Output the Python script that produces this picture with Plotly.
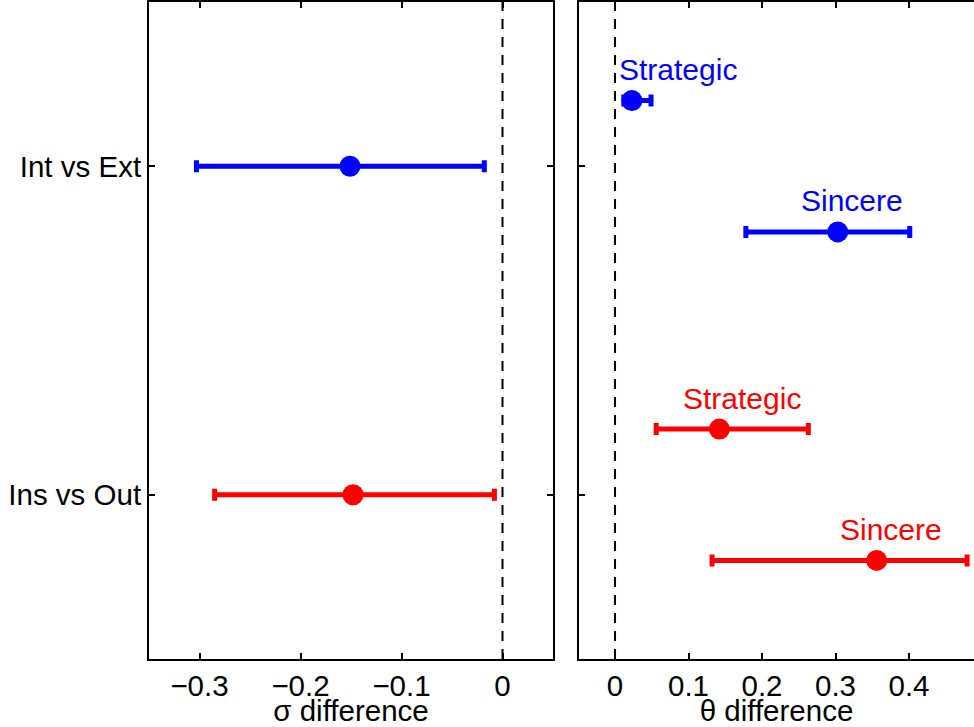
import plotly.graph_objects as go

# ---- data ----
categories = ["Int vs Ext", "Ins vs Out"]
series_colors = ["#0000FF", "#FF0000"]

sigma_mean = [-0.151, -0.148]
sigma_low = [-0.303, -0.285]
sigma_high = [-0.018, -0.008]

groups = ["Strategic", "Sincere"]
theta_mean = {"Int vs Ext": [0.023, 0.303], "Ins vs Out": [0.142, 0.356]}
theta_low = {"Int vs Ext": [0.012, 0.178], "Ins vs Out": [0.056, 0.132]}
theta_high = {"Int vs Ext": [0.049, 0.401], "Ins vs Out": [0.263, 0.479]}
label_x = {"Int vs Ext": [0.086, 0.322], "Ins vs Out": [0.173, 0.376]}

cat_pos = [1, 2]
group_offset = [-0.2, 0.2]

FONT = "Liberation Sans, Arial, sans-serif"
FS = 29.5
FS_LABEL = 30

fig = go.Figure()

# left panel: sigma differences
for i, cat in enumerate(categories):
    c = series_colors[i]
    fig.add_trace(go.Scatter(
        x=[sigma_mean[i]], y=[cat_pos[i]], mode="markers",
        marker=dict(color=c, size=21, line=dict(width=0)),
        error_x=dict(type="data", symmetric=False,
                     array=[sigma_high[i] - sigma_mean[i]],
                     arrayminus=[sigma_mean[i] - sigma_low[i]],
                     color=c, thickness=5, width=6),
        xaxis="x", yaxis="y", showlegend=False))

# right panel: theta differences
for i, cat in enumerate(categories):
    c = series_colors[i]
    for j, g in enumerate(groups):
        m = theta_mean[cat][j]
        yv = cat_pos[i] + group_offset[j]
        fig.add_trace(go.Scatter(
            x=[m], y=[yv], mode="markers",
            marker=dict(color=c, size=21, line=dict(width=0)),
            error_x=dict(type="data", symmetric=False,
                         array=[theta_high[cat][j] - m],
                         arrayminus=[m - theta_low[cat][j]],
                         color=c, thickness=5, width=6),
            xaxis="x2", yaxis="y2", showlegend=False))
        fig.add_annotation(x=label_x[cat][j], y=yv, xref="x2", yref="y2",
                           text=g, showarrow=False, yshift=31,
                           font=dict(family=FONT, size=FS_LABEL, color=c))

# dashed zero lines
for xr, yr in [("x", "y domain"), ("x2", "y2 domain")]:
    fig.add_shape(type="line", x0=0, x1=0, y0=0, y1=1, xref=xr, yref=yr,
                  line=dict(color="black", width=2, dash="10px,8px"))

axis_common = dict(showgrid=False, zeroline=False, showline=True,
                   linecolor="black", linewidth=2, ticks="inside",
                   ticklen=6, tickwidth=1.5, tickcolor="black",
                   automargin=False,
                   tickfont=dict(family=FONT, size=FS, color="black"))

fig.update_layout(
    width=974, height=727,
    margin=dict(l=149, r=0, t=2, b=68),
    paper_bgcolor="white", plot_bgcolor="white",
    xaxis=dict(domain=[0, 404 / 825], range=[-0.35, 0.05], mirror="ticks",
               tickvals=[-0.3, -0.2, -0.1, 0],
               ticktext=["\u22120.3", "\u22120.2", "\u22120.1", "0"],
               title=dict(text="\u03c3 difference", standoff=11,
                          font=dict(family=FONT, size=FS, color="black")),
               anchor="y", **axis_common),
    yaxis=dict(range=[2.5, 0.5], mirror="ticks", tickvals=cat_pos,
               ticktext=categories, anchor="x", **axis_common),
    xaxis2=dict(domain=[430 / 825, 1], range=[-0.049, 0.4884], mirror="ticks",
                tickvals=[0, 0.1, 0.2, 0.3, 0.4],
                ticktext=["0", "0.1", "0.2", "0.3", "0.4"],
                title=dict(text="\u03b8 difference", standoff=11,
                           font=dict(family=FONT, size=FS, color="black")),
                anchor="y2", **axis_common),
    yaxis2=dict(range=[2.5, 0.5], mirror=False, tickvals=cat_pos,
                showticklabels=False, anchor="x2", **axis_common),
)

fig.write_html("out.html",
               config={"displayModeBar": False},
               post_script="document.body.style.margin='0px';"
                           "document.body.style.overflow='hidden';")
